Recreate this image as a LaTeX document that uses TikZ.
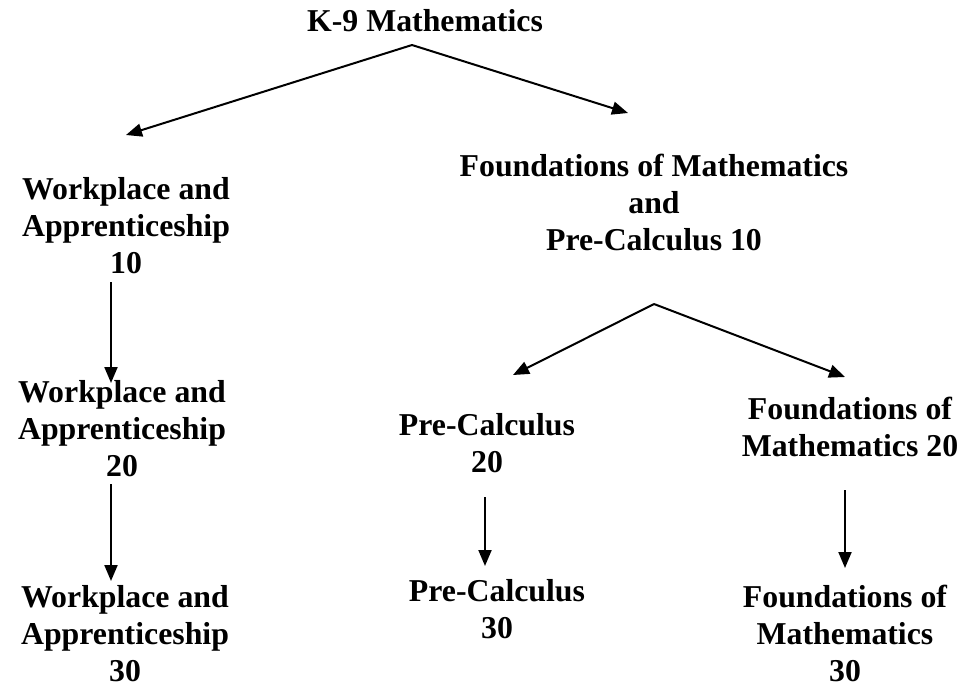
\documentclass[tikz,border=0pt]{standalone}
\usepackage{fontspec}
\setmainfont{Liberation Serif}
\usetikzlibrary{arrows.meta}
\begin{document}
\begin{tikzpicture}[x=1pt,y=-1pt,
  lbl/.style={anchor=base,align=center,inner sep=0pt,font=\fontsize{31.8}{37}\selectfont\bfseries},
  arr/.style={line width=2pt,-{Triangle[length=16pt,width=13pt]}}]
\useasboundingbox[fill=white] (0,0) rectangle (969,686);
\node[lbl] (k9) at (425,31) {K-9 Mathematics};
\node[lbl] (wa10) at (126,273) {Workplace and\\Apprenticeship\\10};
\node[lbl] (fp10) at (654,250) {Foundations of Mathematics\\and\\Pre-Calculus 10};
\node[lbl] (wa20) at (122,476) {Workplace and\\Apprenticeship\\20};
\node[lbl] (pc20) at (487,472) {Pre-Calculus\\20};
\node[lbl] (fm20) at (850,456) {Foundations of\\Mathematics 20};
\node[lbl] (wa30) at (125,681) {Workplace and\\Apprenticeship\\30};
\node[lbl] (pc30) at (497,638) {Pre-Calculus\\30};
\node[lbl] (fm30) at (845,681) {Foundations of\\Mathematics\\30};
\coordinate (ap1) at (412,45);
\coordinate (t1) at (126,135);
\coordinate (t2) at (628,113);
\coordinate (ap2) at (654,304);
\coordinate (t3) at (513,375);
\coordinate (t4) at (845,377);
\coordinate (v1a) at (111,282); \coordinate (v1b) at (111,383);
\coordinate (v2a) at (111,484); \coordinate (v2b) at (111,581);
\coordinate (v3a) at (485,497); \coordinate (v3b) at (485,566);
\coordinate (v4a) at (845,490); \coordinate (v4b) at (845,568);
\draw[arr] (ap1) -- (t1);
\draw[arr] (ap1) -- (t2);
\draw[arr] (ap2) -- (t3);
\draw[arr] (ap2) -- (t4);
\draw[arr] (v1a) -- (v1b);
\draw[arr] (v2a) -- (v2b);
\draw[arr] (v3a) -- (v3b);
\draw[arr] (v4a) -- (v4b);
\end{tikzpicture}
\end{document}
